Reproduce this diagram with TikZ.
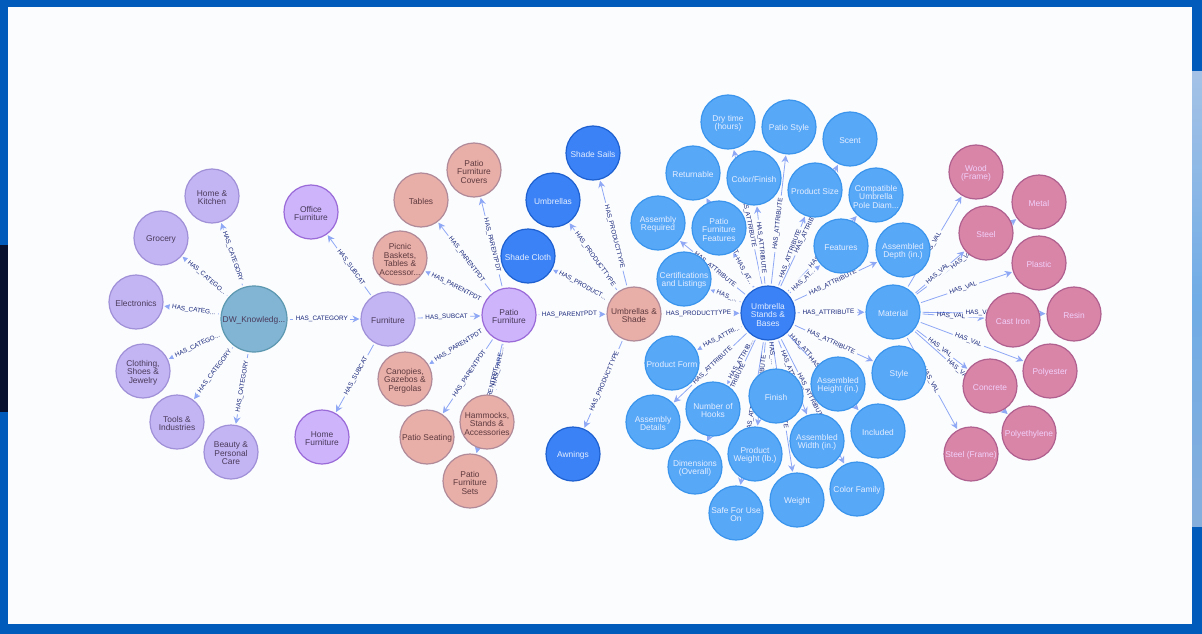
\documentclass[tikz,border=0pt]{standalone}
\usepackage{fontspec}
\setmainfont{Liberation Sans}
\usetikzlibrary{arrows.meta}
\pgfdeclarelayer{edges}
\pgfdeclarelayer{labels}
\pgfsetlayers{edges,labels,main}
\definecolor{frameblue}{HTML}{005BBB}
\definecolor{pagebg}{HTML}{FBFCFE}
\definecolor{darkband}{HTML}{08122E}
\definecolor{edgecol}{HTML}{8FA8F5}
\definecolor{labelcol}{HTML}{17267A}
\definecolor{bandtop}{HTML}{A5C2E6}
\definecolor{bandmid}{HTML}{70ACE6}
\definecolor{bandbot}{HTML}{85AEDC}
\definecolor{rootfill}{HTML}{82B4D4}\definecolor{rootline}{HTML}{5C98B0}
\definecolor{catfill}{HTML}{C3B5F3}\definecolor{catline}{HTML}{A090D8}
\definecolor{subfill}{HTML}{CDB4FB}\definecolor{subline}{HTML}{9A6BD8}
\definecolor{parfill}{HTML}{E8AEA8}\definecolor{parline}{HTML}{B08A98}
\definecolor{ptfill}{HTML}{3B82F6}\definecolor{ptline}{HTML}{1E60D0}
\definecolor{attrfill}{HTML}{58A8F8}\definecolor{attrline}{HTML}{3B95EC}
\definecolor{valfill}{HTML}{D885A8}\definecolor{valline}{HTML}{B0608E}
\definecolor{darktxt}{HTML}{4A3A5A}\definecolor{browntxt}{HTML}{5E3A3E}
\definecolor{lighttxt}{HTML}{E4EEFF}\definecolor{pinktxt}{HTML}{F2D0FA}
\tikzset{
  x=1pt,y=-1pt,
  gnode/.style={circle,minimum size=54pt,inner sep=0pt,line width=1.2pt,align=center,
    text height={\ht\pgfnodeparttextbox+3pt},
    font=\fontsize{8.4}{8.5}\selectfont},
  rootn/.style={gnode,minimum size=66pt,fill=rootfill,draw=rootline,text=darktxt},
  cat/.style={gnode,fill=catfill,draw=catline,text=darktxt},
  sub/.style={gnode,fill=subfill,draw=subline,text=darktxt},
  par/.style={gnode,fill=parfill,draw=parline,text=browntxt},
  ptype/.style={gnode,fill=ptfill,draw=ptline,text=lighttxt},
  attr/.style={gnode,fill=attrfill,draw=attrline,text=lighttxt},
  val/.style={gnode,fill=valfill,draw=valline,text=pinktxt},
  edge/.style={draw=edgecol,line width=0.8pt,shorten >=1pt,shorten <=2pt,-{Stealth[length=7pt,width=7pt]}},
  elmask/.style={fill=pagebg,text opacity=0,sloped,pos=0.47,inner xsep=2.5pt,inner ysep=1.5pt,font=\fontsize{6.4}{6.4}\selectfont},
  eltext/.style={text=labelcol,sloped,pos=0.47,inner sep=1.5pt,font=\fontsize{6.4}{6.4}\selectfont},
}
\newcommand{\lnk}[3]{%
  \begin{pgfonlayer}{edges}\draw[edge] (#1) -- node[elmask]{#3} (#2);\end{pgfonlayer}%
  \begin{pgfonlayer}{labels}\path (#1) -- node[eltext]{#3} (#2);\end{pgfonlayer}}
\begin{document}
\begin{tikzpicture}
\useasboundingbox (0,0) rectangle (1202,634);
\begin{pgfonlayer}{edges}
\fill[frameblue] (0,0) rectangle (1202,634);
\fill[darkband] (0,245) rectangle (8,412);
\shade[top color=bandtop,bottom color=bandbot,middle color=bandmid] (1192,72) rectangle (1202,526);
\fill[pagebg] (8,7) rectangle (1192,624);
\end{pgfonlayer}
% nodes
\node[rootn] (dw) at (254,319) {DW\_Knowledg...};
\node[cat] (hk) at (212,196) {Home \&\\Kitchen};
\node[cat] (groc) at (161,238) {Grocery};
\node[cat] (elec) at (136,302) {Electronics};
\node[cat] (cloth) at (143,371) {Clothing,\\Shoes \&\\Jewelry};
\node[cat] (tools) at (177,422) {Tools \&\\Industries};
\node[cat] (beauty) at (231,452) {Beauty \&\\Personal\\Care};
\node[cat] (furn) at (388,319) {Furniture};
\node[sub] (office) at (311,212) {Office\\Furniture};
\node[sub] (homef) at (322,437) {Home\\Furniture};
\node[sub] (patio) at (509,315) {Patio\\Furniture};
\node[par] (covers) at (474,170) {Patio\\Furniture\\Covers};
\node[par] (tables) at (421,200) {Tables};
\node[par] (picnic) at (400,258) {Picnic\\Baskets,\\Tables \&\\Accessor...};
\node[par] (canop) at (405,379) {Canopies,\\Gazebos \&\\Pergolas};
\node[par] (seat) at (427,437) {Patio Seating};
\node[par] (hamm) at (487,422) {Hammocks,\\Stands \&\\Accessories};
\node[par] (sets) at (470,481) {Patio\\Furniture\\Sets};
\node[par] (ushade) at (634,314) {Umbrellas \&\\Shade};
\node[ptype] (sails) at (593,153) {Shade Sails};
\node[ptype] (umb) at (553,200) {Umbrellas};
\node[ptype] (scloth) at (528,256) {Shade Cloth};
\node[ptype] (awn) at (573,454) {Awnings};
\node[ptype] (stands) at (768,313) {Umbrella\\Stands \&\\Bases};
\node[attr] (dry) at (728,122) {Dry time\\(hours)};
\node[attr] (pstyle) at (789,127) {Patio Style};
\node[attr] (scent) at (850,139) {Scent};
\node[attr] (ret) at (693,173) {Returnable};
\node[attr] (color) at (754,178) {Color/Finish};
\node[attr] (psize) at (815,190) {Product Size};
\node[attr] (compat) at (876,195) {Compatible\\Umbrella\\Pole Diam...};
\node[attr] (areq) at (658,223) {Assembly\\Required};
\node[attr] (pff) at (719,228) {Patio\\Furniture\\Features};
\node[attr] (feat) at (841,246) {Features};
\node[attr] (adepth) at (903,250) {Assembled\\Depth (in.)};
\node[attr] (cert) at (684,279) {Certifications\\and Listings};
\node[attr] (mat) at (893,312) {Material};
\node[attr] (pform) at (672,363) {Product Form};
\node[attr] (style) at (899,373) {Style};
\node[attr] (hooks) at (713,409) {Number of\\Hooks};
\node[attr] (finish) at (776,396) {Finish};
\node[attr] (aheight) at (838,384) {Assembled\\Height (in.)};
\node[attr] (adet) at (653,422) {Assembly\\Details};
\node[attr] (incl) at (878,431) {Included};
\node[attr] (awidth) at (817,441) {Assembled\\Width (in.)};
\node[attr] (pweight) at (755,454) {Product\\Weight (lb.)};
\node[attr] (dims) at (695,467) {Dimensions\\(Overall)};
\node[attr] (cfam) at (857,489) {Color Family};
\node[attr] (weight) at (797,500) {Weight};
\node[attr] (safe) at (736,513) {Safe For Use\\On};
\node[val] (wood) at (976,172) {Wood\\(Frame)};
\node[val] (metal) at (1039,202) {Metal};
\node[val] (steel) at (986,233) {Steel};
\node[val] (plastic) at (1039,263) {Plastic};
\node[val] (iron) at (1013,320) {Cast Iron};
\node[val] (resin) at (1074,314) {Resin};
\node[val] (poly) at (1050,371) {Polyester};
\node[val] (conc) at (990,386) {Concrete};
\node[val] (pe) at (1029,433) {Polyethylene};
\node[val] (sframe) at (971,454) {Steel (Frame)};
% connectors
\lnk{dw}{hk}{HAS\_CATEGORY}
\lnk{dw}{groc}{HAS\_CATEGO...}
\lnk{dw}{elec}{HAS\_CATEG...}
\lnk{dw}{cloth}{HAS\_CATEGO...}
\lnk{dw}{tools}{HAS\_CATEGORY}
\lnk{dw}{beauty}{HAS\_CATEGORY}
\lnk{dw}{furn}{HAS\_CATEGORY}
\lnk{furn}{office}{HAS\_SUBCAT}
\lnk{furn}{homef}{HAS\_SUBCAT}
\lnk{furn}{patio}{HAS\_SUBCAT}
\lnk{patio}{covers}{HAS\_PARENTPDT}
\lnk{patio}{tables}{HAS\_PARENTPDT}
\lnk{patio}{picnic}{HAS\_PARENTPDT}
\lnk{patio}{canop}{HAS\_PARENTPDT}
\lnk{patio}{seat}{HAS\_PARENTPDT}
\lnk{patio}{hamm}{HAS\_PARE...}
\lnk{patio}{sets}{HAS\_PARENTPDT}
\lnk{patio}{ushade}{HAS\_PARENTPDT}
\lnk{ushade}{sails}{HAS\_PRODUCTTYPE}
\lnk{ushade}{umb}{HAS\_PRODUCTTYPE}
\lnk{ushade}{scloth}{HAS\_PRODUCT...}
\lnk{ushade}{awn}{HAS\_PRODUCTTYPE}
\lnk{ushade}{stands}{HAS\_PRODUCTTYPE}
\lnk{stands}{dry}{HAS\_ATTRIBUTE}
\lnk{stands}{color}{HAS\_ATTRIBUTE}
\lnk{stands}{pstyle}{HAS\_ATTRIBUTE}
\lnk{stands}{psize}{HAS\_ATTRIBUTE}
\lnk{stands}{scent}{HAS\_ATTRIBUTE}
\lnk{stands}{compat}{HAS\_AT...}
\lnk{stands}{feat}{HAS\_AT...}
\lnk{stands}{adepth}{HAS\_ATTRIBUTE}
\lnk{stands}{ret}{HAS\_AT...}
\lnk{stands}{pff}{HAS\_AT...}
\lnk{stands}{areq}{HAS\_ATTRIBUTE}
\lnk{stands}{cert}{HAS\_...}
\lnk{stands}{mat}{HAS\_ATTRIBUTE}
\lnk{stands}{style}{HAS\_ATTRIBUTE}
\lnk{stands}{pform}{HAS\_ATTRI...}
\lnk{stands}{adet}{HAS\_ATTRIBUTE}
\lnk{stands}{hooks}{HAS\_ATTRIB...}
\lnk{stands}{dims}{HAS\_ATTRIBUTE}
\lnk{stands}{finish}{HAS\_...}
\lnk{stands}{pweight}{HAS\_ATTRIBUTE}
\lnk{stands}{safe}{HAS\_ATTRIBUTE}
\lnk{stands}{weight}{HAS\_ATTRIBUTE}
\lnk{stands}{aheight}{HAS\_ATT...}
\lnk{stands}{incl}{HAS\_ATT...}
\lnk{stands}{awidth}{HAS\_ATTRIBUTE}
\lnk{stands}{cfam}{HAS\_ATTRIBUTE}
\lnk{mat}{wood}{HAS\_VAL}
\lnk{mat}{metal}{HAS\_VAL}
\lnk{mat}{steel}{HAS\_VAL}
\lnk{mat}{plastic}{HAS\_VAL}
\lnk{mat}{iron}{HAS\_VAL}
\lnk{mat}{resin}{HAS\_VAL}
\lnk{mat}{poly}{HAS\_VAL}
\lnk{mat}{conc}{HAS\_VAL}
\lnk{mat}{pe}{HAS\_VAL}
\lnk{mat}{sframe}{HAS\_VAL}
\end{tikzpicture}
\end{document}
